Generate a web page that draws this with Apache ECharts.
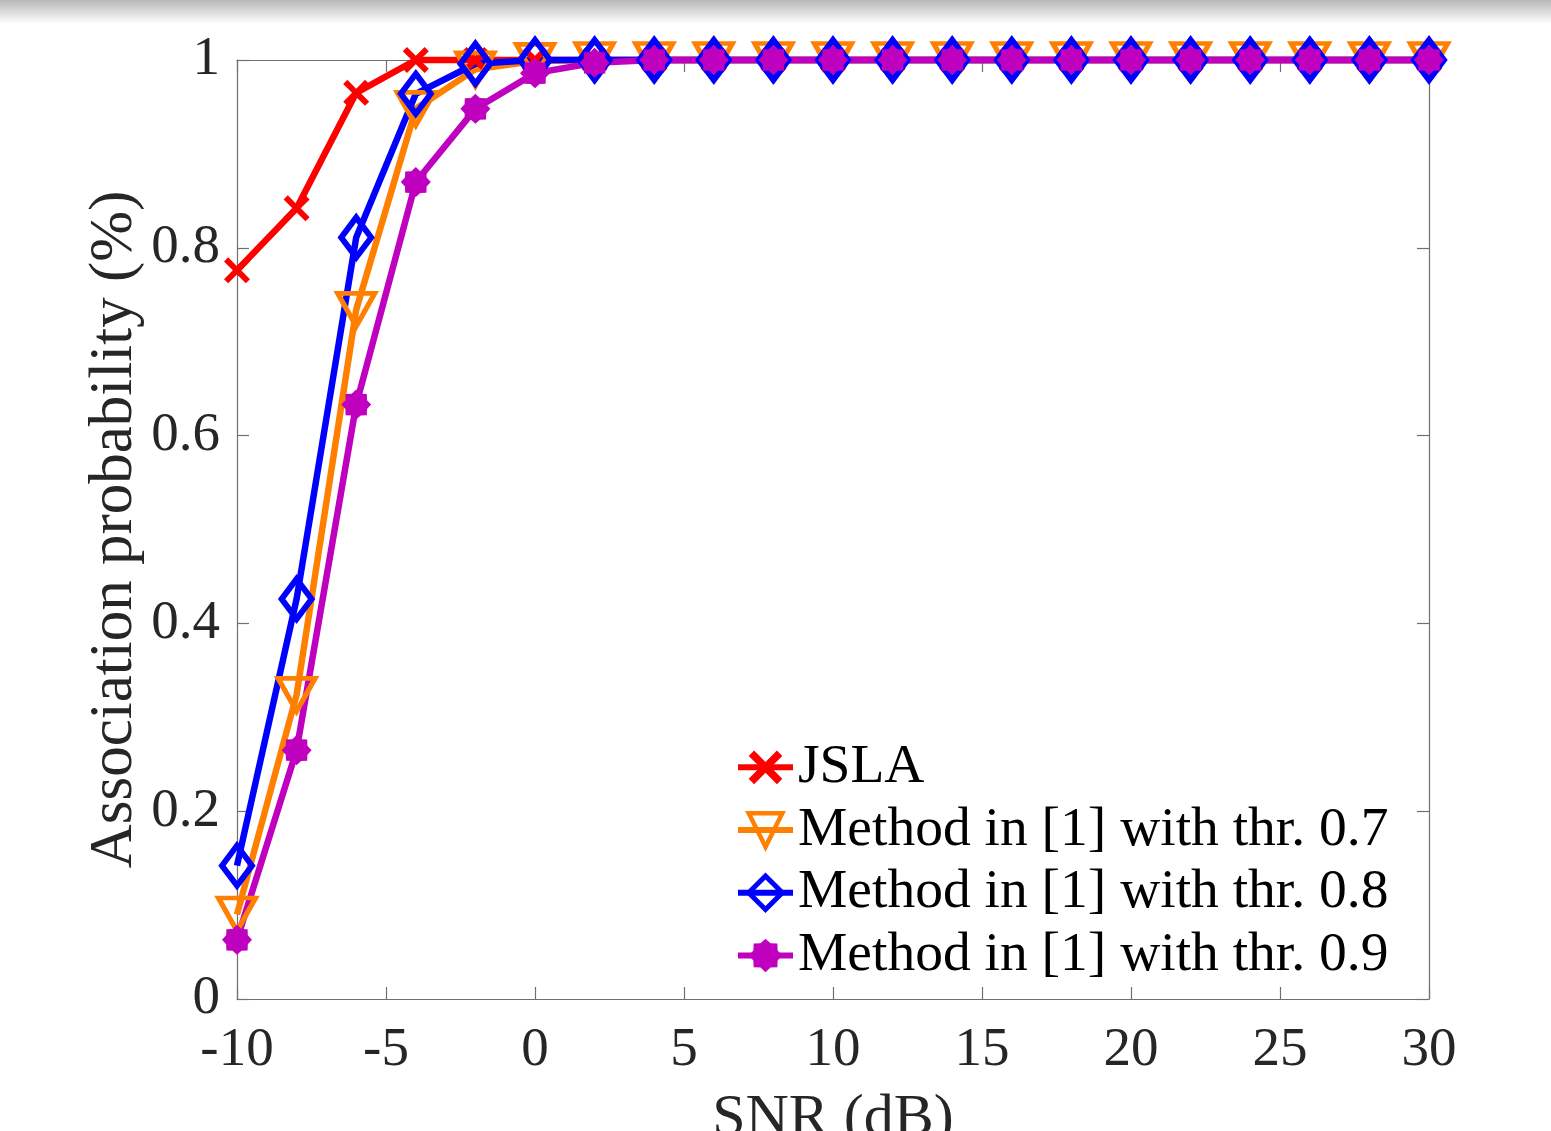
<!DOCTYPE html>
<html><head><meta charset="utf-8">
<script src="https://cdn.jsdelivr.net/npm/echarts@6/dist/echarts.min.js"></script>
<style>
html,body{margin:0;padding:0;background:#fff;overflow:hidden;}
#c{width:1551px;height:1131px;}
#shade{position:absolute;left:0;top:0;width:1551px;height:24px;background:linear-gradient(#b8b8b8,rgba(255,255,255,0));pointer-events:none;}
</style></head>
<body><div id="c"></div><div id="shade"></div>
<script>
// ---- data ----
const snr   = [-10, -8, -6, -4, -2, 0, 2, 4, 6, 8, 10, 12, 14, 16, 18, 20, 22, 24, 26, 28, 30];
const jsla  = [0.776, 0.842, 0.965, 1, 1, 1, 1, 1, 1, 1, 1, 1, 1, 1, 1, 1, 1, 1, 1, 1, 1];
const thr07 = [0.090, 0.324, 0.734, 0.948, 0.990, 0.999, 1, 1, 1, 1, 1, 1, 1, 1, 1, 1, 1, 1, 1, 1, 1];
const thr08 = [0.142, 0.426, 0.811, 0.964, 0.996, 1, 1, 1, 1, 1, 1, 1, 1, 1, 1, 1, 1, 1, 1, 1, 1];
const thr09 = [0.063, 0.265, 0.633, 0.870, 0.948, 0.986, 0.997, 1, 1, 1, 1, 1, 1, 1, 1, 1, 1, 1, 1, 1, 1];
const seriesNames = ['JSLA', 'Method in [1] with thr. 0.7', 'Method in [1] with thr. 0.8', 'Method in [1] with thr. 0.9'];
const xTitle = 'SNR (dB)';
const yTitle = 'Association probability (%)';

const FONT = '"Liberation Serif", "Times New Roman", serif';
const pairs = v => snr.map((x, i) => [x, v[i]]);

// marker shapes
const crossPath = 'path://M1.6,0L5,3.4L8.4,0L10,1.6L6.6,5L10,8.4L8.4,10L5,6.6L1.6,10L0,8.4L3.4,5L0,1.6Z';
function starPath(n, ro, ri) {
  let d = '';
  for (let k = 0; k < 2 * n; k++) {
    const r = k % 2 === 0 ? ro : ri;
    const a = Math.PI * k / n - Math.PI / 2;
    d += (k === 0 ? 'M' : 'L') + (5 + r * Math.cos(a)).toFixed(3) + ',' + (5 + r * Math.sin(a)).toFixed(3);
  }
  return 'path://' + d + 'Z';
}
const astPath = starPath(8, 5, 3.9);

const RED = '#ff0000', ORANGE = '#ff8000', BLUE = '#0000ff', MAG = '#bf00bf';
const LW = 6.5;
const AX = '#707070';

function axisStyle() {
  return {
    axisLine: { show: true, onZero: false, lineStyle: { color: AX, width: 1.2 } },
    axisTick: { show: true, inside: true, length: 12, lineStyle: { color: AX, width: 1.2 } },
    splitLine: { show: false }
  };
}

const chart = echarts.init(document.getElementById('c'), null, { renderer: 'canvas' });
chart.setOption({
  animation: false,
  backgroundColor: '#fff',
  textStyle: { fontFamily: FONT },
  grid: { left: 237, right: 122, top: 60, bottom: 132, containLabel: false, outerBoundsMode: 'none' },
  xAxis: [
    Object.assign({
      type: 'value', min: -10, max: 30, interval: 5, position: 'bottom',
      name: xTitle, nameLocation: 'middle', nameGap: 90, nameMoveOverlap: false,
      nameTextStyle: { fontFamily: FONT, fontSize: 60, color: '#262626' },
      axisLabel: { fontFamily: FONT, fontSize: 55, color: '#262626', margin: 24 }
    }, axisStyle()),
    Object.assign({
      type: 'value', min: -10, max: 30, interval: 5, position: 'top',
      axisLabel: { show: false }
    }, axisStyle())
  ],
  yAxis: [
    Object.assign({
      type: 'value', min: 0, max: 1, interval: 0.2, position: 'left',
      name: yTitle, nameLocation: 'middle', nameGap: 92, nameMoveOverlap: false,
      nameTextStyle: { fontFamily: FONT, fontSize: 61, color: '#262626' },
      axisLabel: { fontFamily: FONT, fontSize: 55, color: '#262626', margin: 17 }
    }, axisStyle()),
    Object.assign({
      type: 'value', min: 0, max: 1, interval: 0.2, position: 'right',
      axisLabel: { show: false }
    }, axisStyle())
  ],
  legend: {
    orient: 'vertical', left: 735, top: 736, padding: 0,
    itemWidth: 55, itemHeight: 42, itemGap: 0,
    lineStyle: { width: 6 },
    textStyle: { fontFamily: FONT, fontSize: 55.5, color: '#000', lineHeight: 62.7, padding: [0, 0, 0, 0] },
    data: [
      { name: seriesNames[0] },
      { name: seriesNames[1], itemStyle: { borderWidth: 4.5 } },
      { name: seriesNames[2], itemStyle: { borderWidth: 5 } },
      { name: seriesNames[3] }
    ]
  },
  series: [
    {
      name: seriesNames[0], type: 'line', data: pairs(jsla), clip: false,
      symbol: crossPath, symbolSize: 26,
      lineStyle: { color: RED, width: LW }, itemStyle: { color: RED }
    },
    {
      name: seriesNames[1], type: 'line', data: pairs(thr07), clip: false,
      symbol: 'triangle', symbolRotate: 180, symbolSize: [37, 33],
      lineStyle: { color: ORANGE, width: LW },
      itemStyle: { color: 'rgba(255,255,255,0)', borderColor: ORANGE, borderWidth: 5 }
    },
    {
      name: seriesNames[2], type: 'line', data: pairs(thr08), clip: false,
      symbol: 'diamond', symbolSize: [30, 40],
      lineStyle: { color: BLUE, width: LW },
      itemStyle: { color: 'rgba(255,255,255,0)', borderColor: BLUE, borderWidth: 6 }
    },
    {
      name: seriesNames[3], type: 'line', data: pairs(thr09), clip: false,
      symbol: astPath, symbolSize: 30,
      lineStyle: { color: MAG, width: LW }, itemStyle: { color: MAG }
    }
  ]
});
</script>
</body></html>
